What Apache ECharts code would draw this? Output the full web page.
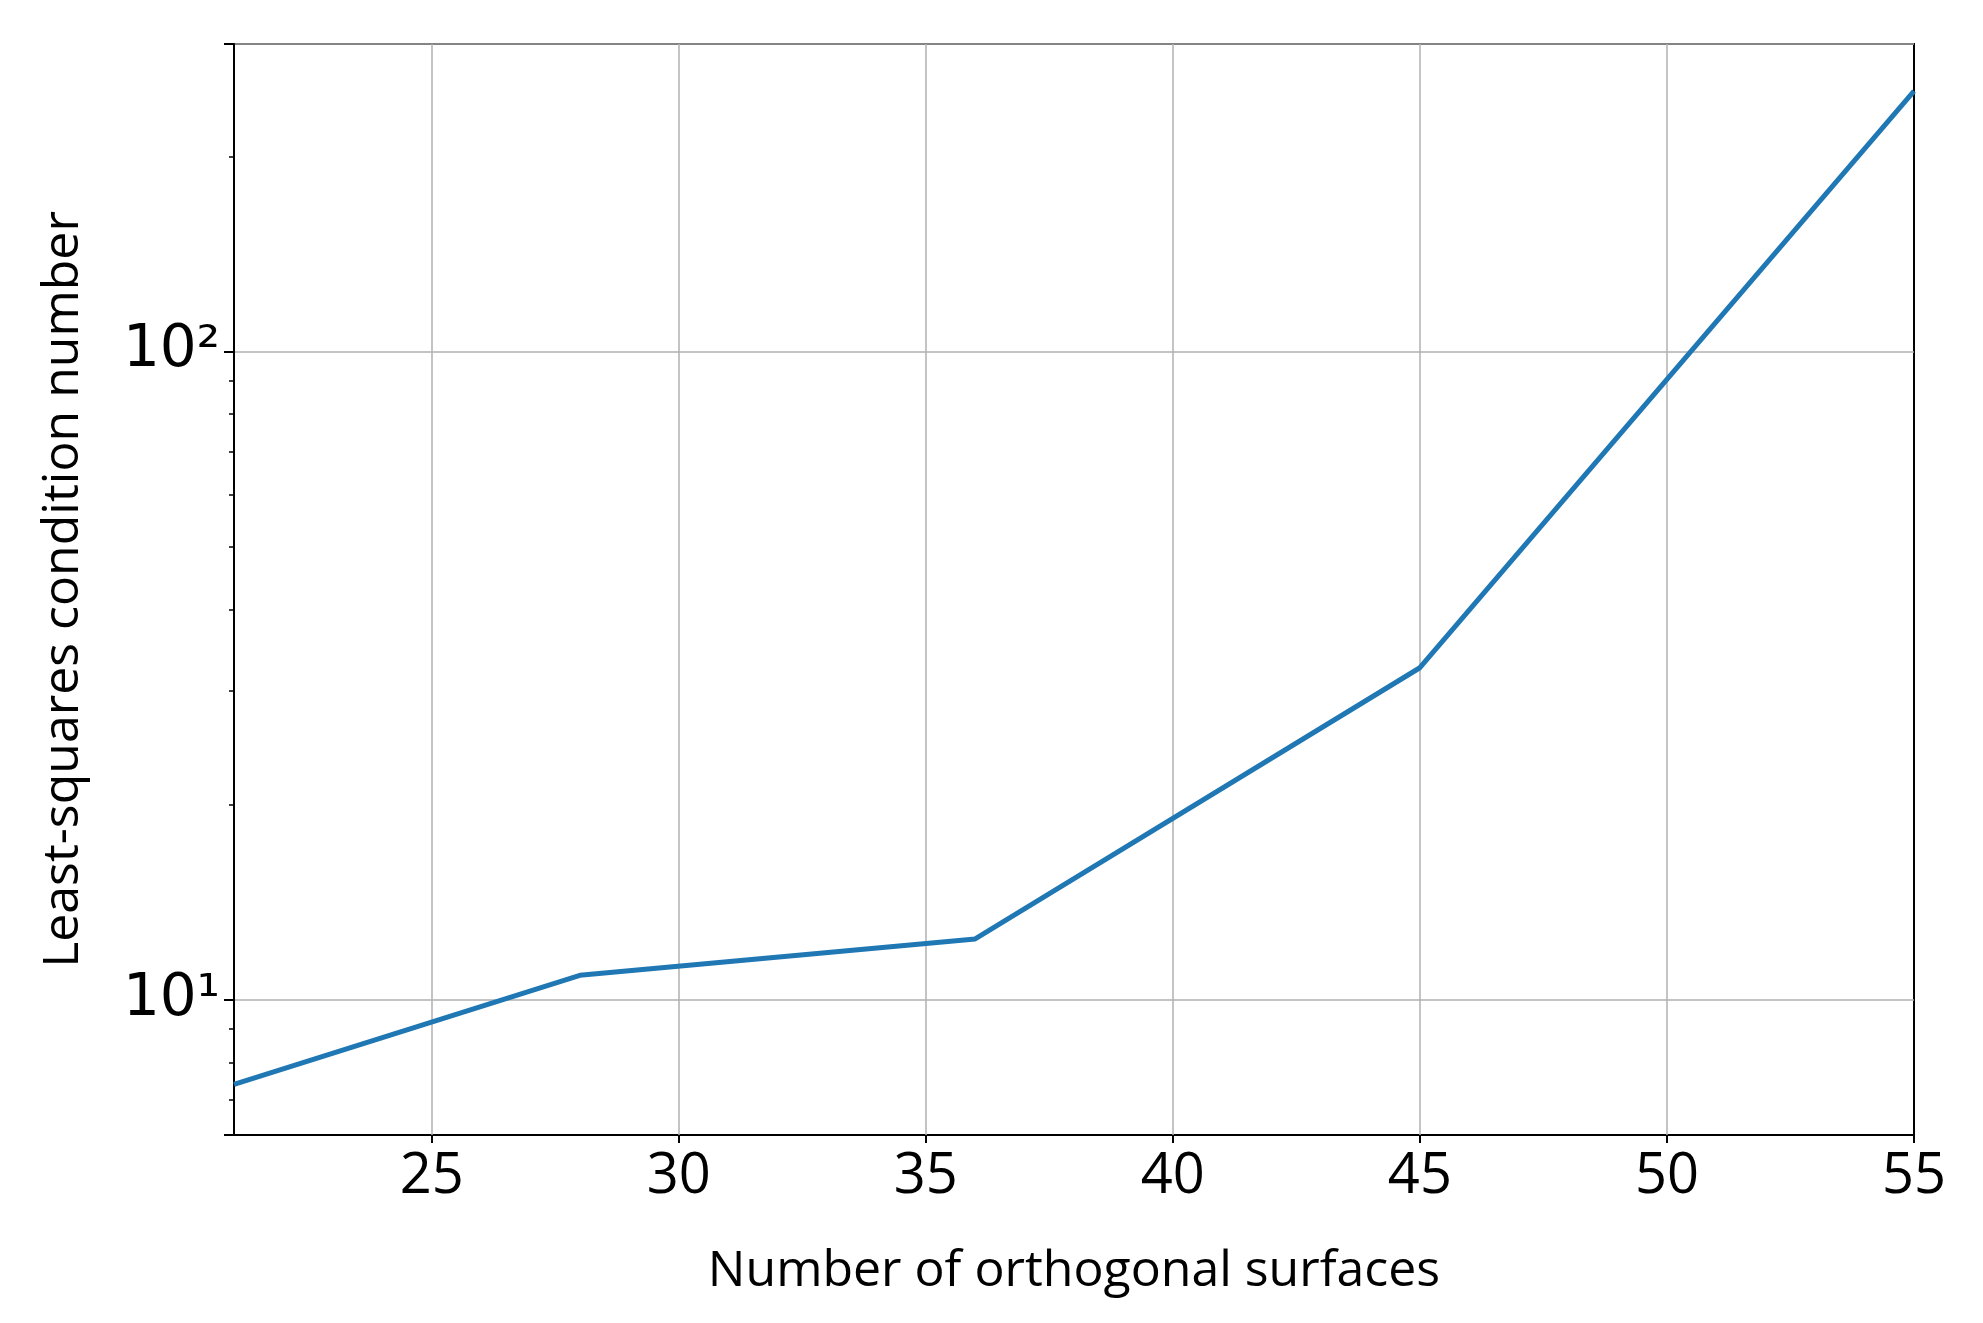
<!DOCTYPE html>
<html><head><meta charset="utf-8">
<script src="https://cdn.jsdelivr.net/npm/echarts@6/dist/echarts.min.js"></script>
<style>html,body{margin:0;background:#fff}#c{width:1983px;height:1323px}</style>
</head><body><div id="c"></div>
<script>
const xValues = [21, 28, 36, 45, 55];
const yValues = [7.4, 10.9, 12.4, 32.5, 252];
const xTicks = [25, 30, 35, 40, 45, 50, 55];
const sup = {'0':'⁰','1':'¹','2':'²','3':'³'};
const chart = echarts.init(document.getElementById('c'));
chart.setOption({
  animation: false,
  grid: {left: 234, right: 69, top: 44, bottom: 188, show: true, borderColor: '#000', borderWidth: 2},
  xAxis: {
    type: 'value', min: 21, max: 55,
    name: 'Number of orthogonal surfaces', nameLocation: 'middle', nameGap: 112,
    nameTextStyle: {fontFamily: 'Open Sans', fontSize: 50, color: '#000'},
    axisLine: {show: true, onZero: false, lineStyle: {color: '#000', width: 2}},
    axisTick: {show: true, length: 8, customValues: xTicks, lineStyle: {color: '#000', width: 2}},
    axisLabel: {fontFamily: 'Open Sans', fontSize: 56, color: '#000', margin: 14, customValues: xTicks},
    splitLine: {show: false}
  },
  yAxis: {
    type: 'log', logBase: 10, min: 6.18, max: 298,
    name: 'Least-squares condition number', nameLocation: 'middle', nameGap: 145,
    nameTextStyle: {fontFamily: 'Open Sans', fontSize: 50, color: '#000'},
    axisLine: {show: true, lineStyle: {color: '#000', width: 2}},
    axisTick: {show: true, length: 10, lineStyle: {color: '#000', width: 2}},
    minorTick: {show: true, splitNumber: 9, length: 5, lineStyle: {color: '#000', width: 1.5}},
    axisLabel: {fontFamily: 'DejaVu Sans', fontSize: 58, color: '#000', margin: 14,
      formatter: v => { const e = Math.round(Math.log10(v)); return Math.abs(Math.log10(v) - e) < 1e-6 ? '10' + String(e).split('').map(c => sup[c]).join('') : ''; }},
    splitLine: {show: true, lineStyle: {color: '#b0b0b0', width: 1.5}}
  },
  series: [{
    type: 'line', data: xValues.map((x, i) => [x, yValues[i]]),
    showSymbol: false, lineStyle: {color: '#1f77b4', width: 5}, z: 5,
    markLine: {
      silent: true, symbol: ['none', 'none'], label: {show: false}, z: 1,
      lineStyle: {color: '#b0b0b0', width: 1.5, type: 'solid'},
      data: xTicks.slice(0, -1).map(v => ({xAxis: v}))
    }
  }]
});
</script></body></html>
